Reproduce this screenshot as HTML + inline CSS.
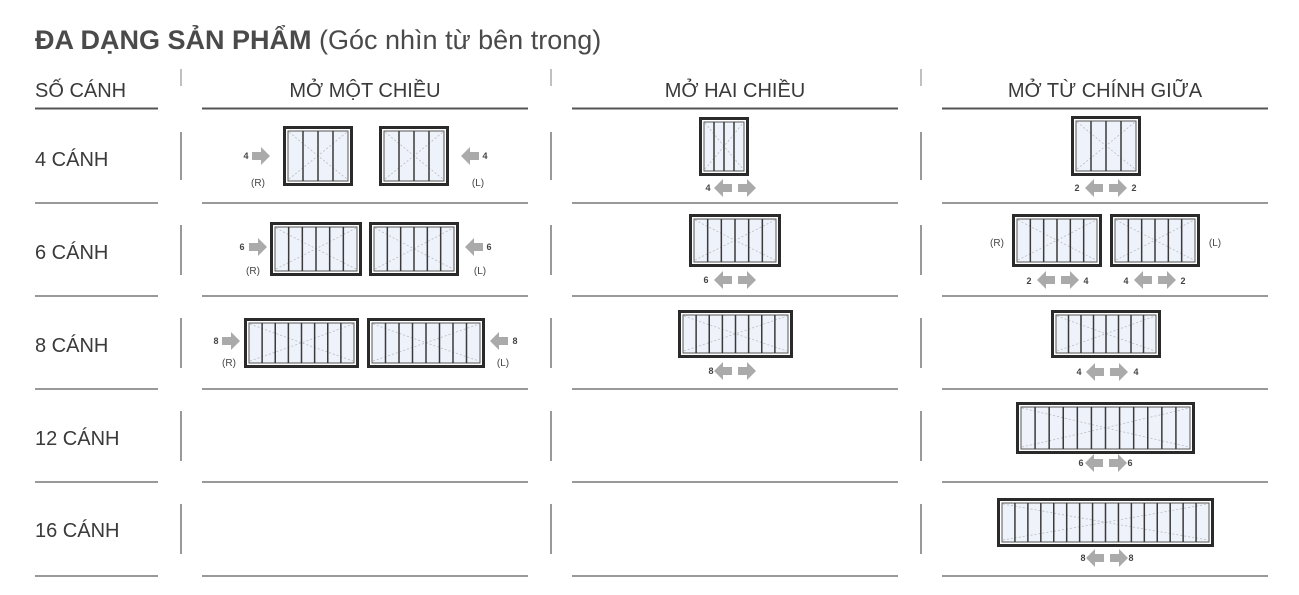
<!DOCTYPE html>
<html><head><meta charset="utf-8"><style>
body{margin:0;background:#fff;width:1299px;height:595px;overflow:hidden;font-family:"Liberation Sans",sans-serif}
svg{position:absolute;left:0;top:0}
text{font-family:"Liberation Sans",sans-serif;fill:#333}
.h{font-size:20px;fill:#3a3a3a}
.r{font-size:20px;fill:#3a3a3a}
.s{font-size:10px;fill:#444}
.n{font-size:9px;font-weight:bold;fill:#444}
</style></head><body>
<svg id="s" width="1299" height="595" xmlns="http://www.w3.org/2000/svg">
<text x="35" y="49" style="font-size:27px;font-weight:bold;fill:#4a4a4a">ĐA DẠNG SẢN PHẨM <tspan style="font-weight:normal">(Góc nhìn từ bên trong)</tspan></text>
<text class="h" x="35" y="97">SỐ CÁNH</text>
<text class="h" x="365" y="97" text-anchor="middle">MỞ MỘT CHIỀU</text>
<text class="h" x="735" y="97" text-anchor="middle">MỞ HAI CHIỀU</text>
<text class="h" x="1105" y="97" text-anchor="middle">MỞ TỪ CHÍNH GIỮA</text>
<text class="r" x="35" y="166">4 CÁNH</text>
<text class="r" x="35" y="259">6 CÁNH</text>
<text class="r" x="35" y="352">8 CÁNH</text>
<text class="r" x="35" y="445">12 CÁNH</text>
<text class="r" x="35" y="537">16 CÁNH</text>
<!-- row1 -->
<text class="n" x="246" y="159" text-anchor="middle">4</text><text class="s" x="258" y="186" text-anchor="middle">(R)</text>
<text class="n" x="485" y="159" text-anchor="middle">4</text><text class="s" x="478" y="186" text-anchor="middle">(L)</text>
<text class="n" x="708" y="191" text-anchor="middle">4</text>
<text class="n" x="1077" y="191" text-anchor="middle">2</text><text class="n" x="1134" y="191" text-anchor="middle">2</text>
<!-- row2 -->
<text class="n" x="242" y="250" text-anchor="middle">6</text><text class="s" x="253" y="274" text-anchor="middle">(R)</text>
<text class="n" x="489" y="250" text-anchor="middle">6</text><text class="s" x="480" y="274" text-anchor="middle">(L)</text>
<text class="n" x="706" y="283" text-anchor="middle">6</text>
<text class="s" x="997" y="246" text-anchor="middle">(R)</text><text class="s" x="1215" y="246" text-anchor="middle">(L)</text>
<text class="n" x="1029" y="284" text-anchor="middle">2</text><text class="n" x="1086" y="284" text-anchor="middle">4</text>
<text class="n" x="1126" y="284" text-anchor="middle">4</text><text class="n" x="1183" y="284" text-anchor="middle">2</text>
<!-- row3 -->
<text class="n" x="216" y="344" text-anchor="middle">8</text><text class="s" x="229" y="366" text-anchor="middle">(R)</text>
<text class="n" x="515" y="344" text-anchor="middle">8</text><text class="s" x="503" y="366" text-anchor="middle">(L)</text>
<text class="n" x="711" y="374" text-anchor="middle">8</text>
<text class="n" x="1079" y="375" text-anchor="middle">4</text><text class="n" x="1136" y="375" text-anchor="middle">4</text>
<text class="n" x="1081" y="466" text-anchor="middle">6</text><text class="n" x="1130" y="466" text-anchor="middle">6</text>
<text class="n" x="1083" y="561" text-anchor="middle">8</text><text class="n" x="1131" y="561" text-anchor="middle">8</text>
</svg>
<script>
var s=document.getElementById('s'),NS='http://www.w3.org/2000/svg';
function el(t,a){var e=document.createElementNS(NS,t);for(var k in a)e.setAttribute(k,a[k]);s.appendChild(e);return e;}
// header lines
[[35,158],[202,528],[572,898],[942,1268]].forEach(function(c){
 el('line',{x1:c[0],x2:c[1],y1:108.5,y2:108.5,stroke:'#555','stroke-width':2});
 [203,296,389,482,576].forEach(function(y){el('line',{x1:c[0],x2:c[1],y1:y,y2:y,stroke:'#999','stroke-width':2});});
});
[181,551,921].forEach(function(x){
 el('line',{x1:x,x2:x,y1:69,y2:86,stroke:'#aaa','stroke-width':1.5});
 [[132,180],[225,275],[318,368],[411,461],[504,554]].forEach(function(r){el('line',{x1:x,x2:x,y1:r[0],y2:r[1],stroke:'#999','stroke-width':2});});
});
function win(x,y,w,h,n){
 el('rect',{x:x+1.5,y:y+1.5,width:w-3,height:h-3,fill:'#fff',stroke:'#2a2a2a','stroke-width':3});
 el('rect',{x:x+5,y:y+5,width:w-10,height:h-10,fill:'#eef2fa',stroke:'#555','stroke-width':1});
 el('path',{d:'M'+(x+6)+' '+(y+h-7)+' Q'+(x+w/2)+' '+(y+h/2)+' '+(x+w-6)+' '+(y+6)+' M'+(x+6)+' '+(y+6)+' Q'+(x+w/2)+' '+(y+h/2)+' '+(x+w-6)+' '+(y+h-7),fill:'none',stroke:'#bbb','stroke-width':0.8,'stroke-dasharray':'2 2'});
 var pw=(w-10)/n;
 for(var i=1;i<n;i++){var xx=x+5+pw*i;el('line',{x1:xx,x2:xx,y1:y+5,y2:y+h-5,stroke:'#3a3a3a','stroke-width':1.5});}
}
function arr(x,y,dir){ // x = left edge, width 18, center y
 var d = dir>0 ? 'M'+x+' '+(y-4)+'h9v-5l9 9-9 9v-5h-9z' : 'M'+(x+18)+' '+(y-4)+'h-9v-5l-9 9 9 9v-5h9z';
 el('path',{d:d,fill:'#aaa'});
}
function both(cx,y){arr(cx-21,y,-1);arr(cx+3,y,1);}
win(283,126,70,60,4);win(379,126,70,60,4);arr(252,156,1);arr(461,156,-1);
win(699,117,50,59,4);both(735,188);
win(1071,116,70,60,4);both(1106,188);
win(270,222,92,54,6);win(369,222,90,54,6);arr(249,247,1);arr(465,247,-1);
win(689,214,92,53,6);both(735,280);
win(1012,214,90,53,6);win(1110,214,90,53,6);both(1058,280);both(1155,280);
win(244,318,115,50,8);win(367,318,118,50,8);arr(222,341,1);arr(490,341,-1);
win(678,310,115,48,8);both(735,371);
win(1051,310,110,48,8);both(1107,372);
win(1016,402,179,52,12);both(1106,463);
win(997,498,217,49,16);both(1107,558);
</script>
</body></html>
